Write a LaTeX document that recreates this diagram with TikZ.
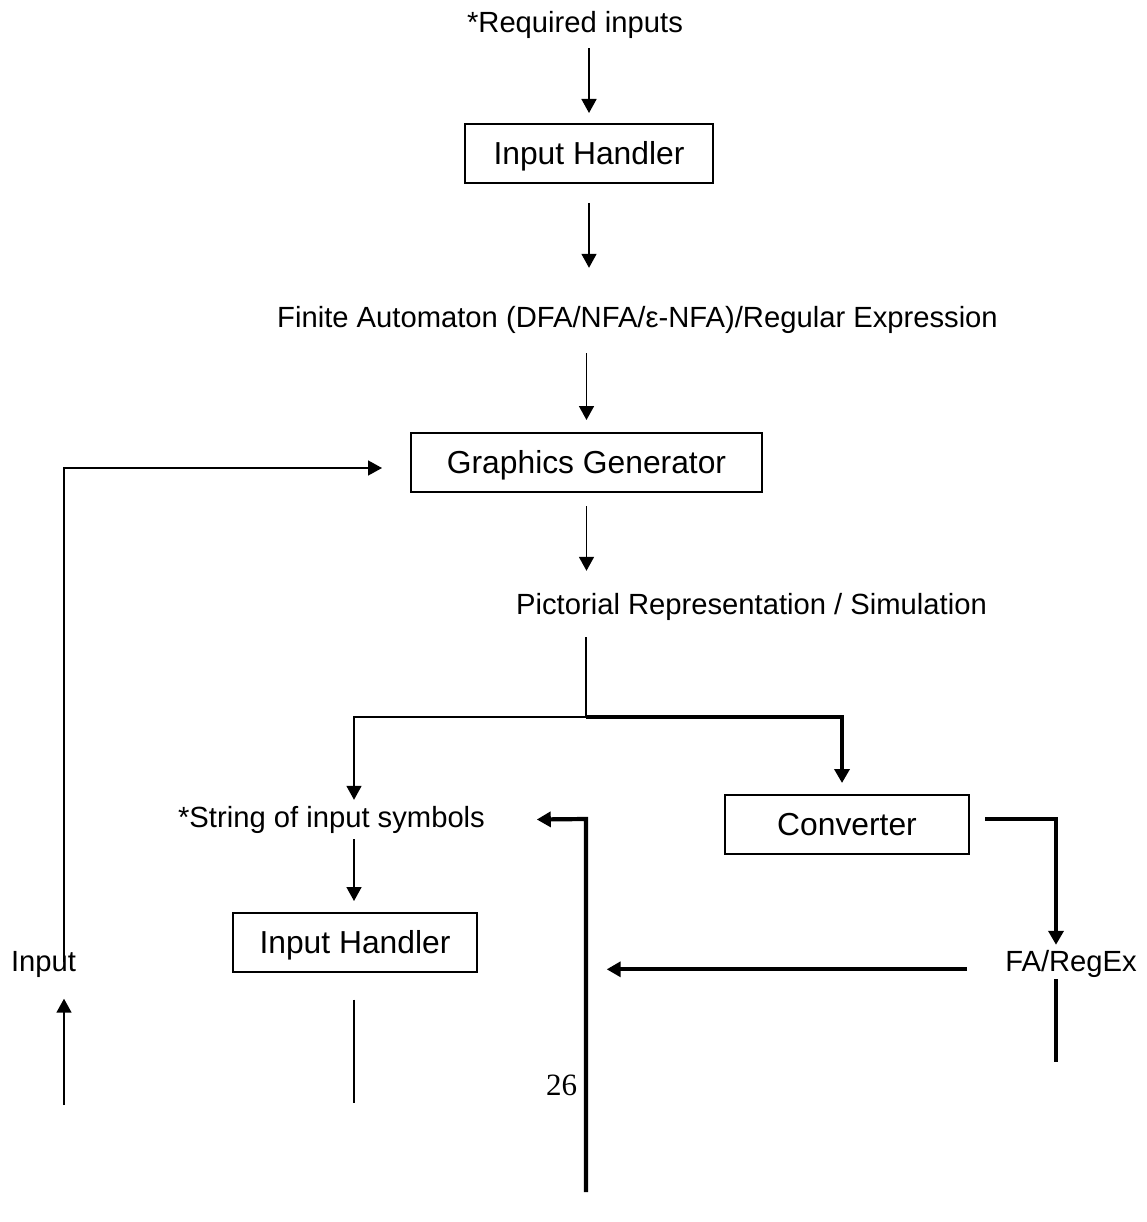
\documentclass[tikz,border=0pt]{standalone}
\usepackage{fontspec}
\setmainfont{Liberation Sans}
\newfontfamily\pagenumfont{Liberation Serif}
\usetikzlibrary{arrows.meta}

\begin{document}
\begin{tikzpicture}[x=1pt,y=-1pt,
  label/.style={anchor=base, inner sep=0pt, font=\fontsize{29.2}{35}\selectfont,
                text height=21pt, text depth=6pt},
  stage/.style={draw, line width=2pt, inner sep=0pt, minimum height=59pt,
                font=\fontsize{31.8}{38}\selectfont, text height=22.8pt, text depth=0pt},
  flow/.style={line width=1.6pt, -{Triangle[length=14pt,width=15pt]}},
  plain/.style={line width=1.6pt},
  heavy/.style={line width=4.2pt},
  heavyflow/.style={line width=4.2pt, -{Triangle[length=14pt,width=15pt]}},
]
\useasboundingbox (0,0) rectangle (1146,1222);

% ---- labels and processing stages ----
\node[label] (req)  at (575,33)     {*Required inputs};
\node[stage, minimum width=248pt] (ih1) at (589,153.5) {Input Handler};
\node[label] (fa)   at (637.5,327.5) {Finite Automaton (DFA/NFA/ε-NFA)/Regular Expression};
\node[stage, minimum width=351pt] (gg)  at (586.5,462.5) {Graphics Generator};
\node[label] (pict) at (751.5,614)  {Pictorial Representation / Simulation};
\node[label] (str)  at (331.5,827)  {*String of input symbols};
\node[stage, minimum width=244pt] (ih2) at (355,942.5) {Input Handler};
\node[stage, minimum width=244pt] (conv) at (847,824.5) {Converter};
\node[label] (fare) at (1071,971.7) {FA/RegEx};
\node[label] (inp)  at (43.5,971)   {Input};
\node[anchor=base, inner sep=0pt, font=\pagenumfont\fontsize{31}{37}\selectfont] (pg) at (561.5,1095) {26};

% ---- junctions and free ends ----
\coordinate (split)  at (586,717);
\coordinate (lbr)    at (354,717);
\coordinate (rbr)    at (842,717);
\coordinate (ihend)  at (354,1103);
\coordinate (lcorner) at (64,468);
\coordinate (inbot)  at (64,1105);
\coordinate (fcol)   at (1056,819);
\coordinate (faend)  at (1056,1062);
\coordinate (vtop)   at (586,819);
\coordinate (vbot)   at (586,1192);

% ---- main column ----
\draw[flow] ([yshift=-9pt]req.south -| ih1.north) -- ([yshift=10pt]ih1.north);
\draw[flow] ([yshift=-19pt]ih1.south) -- ([yshift=38.5pt]fa.north -| ih1.south);
\draw[flow] ([yshift=-19.5pt]fa.south -| gg.north) -- ([yshift=12pt]gg.north);
\draw[flow] ([yshift=-13pt]gg.south) -- ([yshift=22pt]pict.north -| gg.south);
\draw[plain] ([yshift=-17pt]pict.south -| split) -- (split);

% ---- left branch (thin) ----
\draw[flow] (split) -- (lbr) -- ([yshift=6pt]str.north -| lbr);
\draw[flow] ([yshift=-6pt]str.south -| lbr) -- ([yshift=11pt]ih2.north -| lbr);
\draw[plain] ([yshift=-26.5pt]ih2.south -| ihend) -- (ihend);

% ---- right branch (heavy) ----
\draw[heavyflow] (split) -- (rbr) -- ([yshift=11pt]conv.north -| rbr);
\draw[heavyflow] ([xshift=15pt,yshift=5.5pt]conv.east) -- (fcol) -- ([yshift=5.7pt]fare.north -| fcol);
\draw[heavy] ([yshift=-1.3pt]fare.south -| faend) -- (faend);
\draw[heavyflow] ([xshift=-38pt,yshift=2.4pt]fare.base west)
   -- ([xshift=20.7pt,yshift=2.4pt]vbot |- fare.base west);
\draw[heavyflow] (vbot) -- (vtop) -- ([xshift=51.7pt]str.east);

% ---- input feedback loop ----
\draw[flow] ([yshift=9pt]inp.base -| lcorner) -- (lcorner) -- ([xshift=-28pt]gg.west |- lcorner);
\draw[flow] (inbot) -- ([yshift=-21.5pt]inp.south -| inbot);
\end{tikzpicture}
\end{document}
